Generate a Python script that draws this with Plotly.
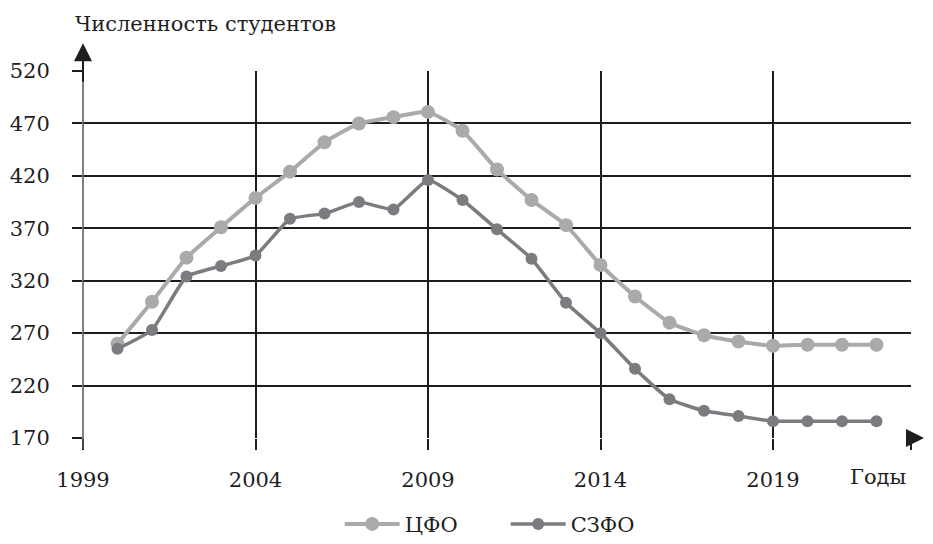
import plotly.graph_objects as go

# Data
years = list(range(2000, 2023))
cfo = [260, 300, 342, 371, 399, 424, 452, 470, 476, 481, 463, 426, 397,
       373, 335, 305, 280, 268, 262, 258, 259, 259, 259]
szfo = [255, 273, 324, 334, 344, 379, 384, 395, 388, 416, 397, 369, 341,
        299, 270, 236, 207, 196, 191, 186, 186, 186, 186]

x_ticks = [1999, 2004, 2009, 2014, 2019, 2023]
x_ticktext = ['1999', '2004', '2009', '2014', '2019', '']
y_ticks = [170, 220, 270, 320, 370, 420, 470, 520]

FONT = 'DejaVu Serif'
INK = '#1e1e1e'

fig = go.Figure()

fig.add_trace(go.Scatter(
    x=years, y=cfo, name='ЦФО', mode='lines+markers',
    line=dict(color='#a9aaac', width=4, shape='spline', smoothing=0.4),
    marker=dict(color='#a9aaac', size=14),
))
fig.add_trace(go.Scatter(
    x=years, y=szfo, name='СЗФО', mode='lines+markers',
    line=dict(color='#7b7c7f', width=3.5, shape='spline', smoothing=0.4),
    marker=dict(color='#7b7c7f', size=12),
))

# page body keeps an 8px margin, so the figure is 16px smaller than the window
fig.update_layout(
    width=917, height=528,
    paper_bgcolor='white', plot_bgcolor='white',
    margin=dict(l=75, r=14, t=63, b=98, autoexpand=False),
    font=dict(family=FONT, size=21, color=INK),
    showlegend=True,
    legend=dict(orientation='h', x=0.31, xanchor='left', y=-0.235, yanchor='middle',
                font=dict(size=21), itemwidth=55, entrywidth=96),
    xaxis=dict(
        range=[1999, 2023], tickvals=x_ticks, ticktext=x_ticktext,
        showgrid=True, gridcolor=INK, gridwidth=1.5,
        ticks='outside', ticklen=11, tickwidth=1.5, tickcolor=INK,
        ticklabelstandoff=12, zeroline=False, showline=False,
    ),
    yaxis=dict(
        range=[170, 520], tickvals=y_ticks,
        showgrid=True, gridcolor=INK, gridwidth=2.2,
        ticks='outside', ticklen=10, tickwidth=1.5, tickcolor=INK,
        ticklabelstandoff=18, zeroline=False, showline=False,
    ),
)

# y axis line running below and above the plot area
fig.add_shape(type='line', xref='paper', yref='paper', x0=0, x1=0, y0=-0.03, y1=1.03,
              line=dict(color='#555555', width=1.5))

# axis arrows
fig.add_annotation(x=1.0175, y=0, xref='paper', yref='paper', ax=-14, ay=0,
                   showarrow=True, arrowhead=2, arrowsize=1.8, arrowwidth=2,
                   arrowcolor=INK, standoff=0, text='')
fig.add_annotation(x=0, y=1.0755, xref='paper', yref='paper', ax=0, ay=40,
                   showarrow=True, arrowhead=2, arrowsize=1.8, arrowwidth=2,
                   arrowcolor=INK, standoff=0, text='')

# axis titles
fig.add_annotation(x=-0.012, y=1.128, xref='paper', yref='paper',
                   xanchor='left', yanchor='middle', showarrow=False,
                   text='Численность студентов', font=dict(size=21))
fig.add_annotation(x=0.96, y=-0.107, xref='paper', yref='paper',
                   xanchor='center', yanchor='middle', showarrow=False,
                   text='Годы', font=dict(size=21))

fig.write_html("out.html")
